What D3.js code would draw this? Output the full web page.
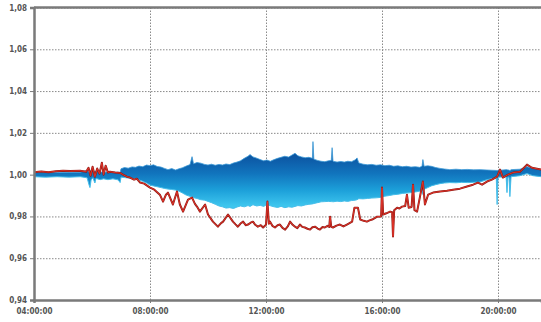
<!DOCTYPE html>
<html>
<head>
<meta charset="utf-8">
<script src="https://cdn.jsdelivr.net/npm/d3@7/dist/d3.min.js"></script>
<style>
html,body{margin:0;padding:0;background:#fff;}
svg{display:block;}
text{font-family:"DejaVu Sans Condensed","Liberation Sans Narrow","DejaVu Sans",sans-serif;font-weight:bold;}
</style>
</head>
<body>
<svg id="chart" width="541" height="322"></svg>
<script>
// ---- data (time in decimal hours) ----
const xTickValues = [4, 8, 12, 16, 20];
const xTickLabels = ["04:00:00", "08:00:00", "12:00:00", "16:00:00", "20:00:00"];
const yTickValues = [0.94, 0.96, 0.98, 1.00, 1.02, 1.04, 1.06, 1.08];
const yTickLabels = ["0,94", "0,96", "0,98", "1,00", "1,02", "1,04", "1,06", "1,08"];

const blueTimes = [4.00,4.40,4.80,5.20,5.60,5.83,5.90,5.93,5.97,6.03,6.10,6.14,6.28,6.40,6.55,6.72,6.90,6.97,
  7.00,7.12,7.25,7.38,7.50,7.62,7.75,7.88,8.00,8.12,8.25,8.38,8.50,8.62,8.75,8.88,9.00,9.12,9.25,9.38,9.45,9.50,9.62,9.75,9.88,
  10.00,10.12,10.25,10.38,10.50,10.62,10.75,10.88,11.00,11.12,11.25,11.38,11.45,11.55,11.68,11.80,11.92,
  12.03,12.15,12.28,12.40,12.52,12.65,12.78,12.90,13.00,13.10,13.22,13.35,13.48,13.60,13.62,13.65,13.78,13.90,
  14.03,14.15,14.25,14.28,14.31,14.45,14.58,14.70,14.82,14.95,15.08,15.14,15.20,15.35,15.50,15.65,15.80,15.95,
  16.10,16.25,16.40,16.55,16.70,16.85,17.00,17.15,17.30,17.38,17.41,17.45,17.58,17.70,17.85,
  18.00,18.15,18.34,18.55,18.75,18.95,19.15,19.38,19.62,19.94,19.97,20.00,20.28,20.31,20.34,20.38,20.41,20.45,20.76,21.00,21.20,21.50];
const blueUpper = [1.0010,1.0012,1.0010,1.0012,1.0012,1.0020,1.0010,1.0010,1.0024,1.0024,1.0014,1.0019,1.0014,1.0010,1.0014,1.0010,1.0012,1.0010,
  1.0028,1.0034,1.0031,1.0037,1.0035,1.0041,1.0038,1.0046,1.0043,1.0047,1.0039,1.0036,1.0030,1.0024,1.0029,1.0022,1.0028,1.0033,1.0041,1.0048,1.0086,1.0052,1.0058,1.0055,1.0049,
  1.0046,1.0050,1.0045,1.0049,1.0046,1.0051,1.0048,1.0056,1.0060,1.0066,1.0078,1.0088,1.0096,1.0085,1.0079,1.0072,1.0066,
  1.0070,1.0064,1.0072,1.0078,1.0083,1.0088,1.0084,1.0094,1.0102,1.0090,1.0085,1.0081,1.0083,1.0078,1.0158,1.0074,1.0068,1.0064,
  1.0062,1.0066,1.0068,1.0129,1.0064,1.0060,1.0063,1.0060,1.0064,1.0062,1.0071,1.0080,1.0056,1.0050,1.0047,1.0049,1.0045,1.0047,
  1.0043,1.0045,1.0040,1.0042,1.0038,1.0040,1.0036,1.0038,1.0035,1.0040,1.0072,1.0040,1.0042,1.0040,1.0034,
  1.0030,1.0027,1.0024,1.0026,1.0024,1.0025,1.0023,1.0024,1.0022,1.0020,1.0020,1.0020,1.0024,1.0024,1.0022,1.0022,1.0019,1.0024,1.0026,1.0038,1.0030,1.0024];
const blueLower = [0.9990,0.9988,0.9990,0.9988,0.9990,0.9985,0.9950,0.9938,0.9975,0.9985,0.9960,0.9982,0.9976,0.9980,0.9976,0.9980,0.9975,0.9962,
  0.9988,0.9986,0.9984,0.9982,0.9979,0.9975,0.9968,0.9960,0.9950,0.9946,0.9942,0.9938,0.9934,0.9931,0.9929,0.9926,0.9921,0.9912,0.9902,0.9896,0.9893,0.9890,0.9886,0.9880,0.9878,
  0.9872,0.9866,0.9858,0.9850,0.9846,0.9840,0.9842,0.9838,0.9845,0.9850,0.9846,0.9852,0.9848,0.9856,0.9850,0.9853,0.9848,
  0.9857,0.9851,0.9846,0.9843,0.9848,0.9842,0.9846,0.9844,0.9848,0.9852,0.9850,0.9855,0.9858,0.9860,0.9860,0.9862,0.9866,0.9870,
  0.9871,0.9872,0.9871,0.9871,0.9870,0.9873,0.9871,0.9874,0.9872,0.9876,0.9878,0.9880,0.9885,0.9884,0.9886,0.9888,0.9889,0.9891,
  0.9897,0.9900,0.9904,0.9906,0.9910,0.9912,0.9914,0.9917,0.9921,0.9925,0.9905,0.9930,0.9938,0.9946,0.9952,
  0.9957,0.9960,0.9962,0.9961,0.9963,0.9962,0.9963,0.9965,0.9976,0.9985,0.9857,0.9988,0.9990,0.9914,0.9988,0.9988,0.9895,0.9990,0.9995,1.0005,0.9995,0.9990];

const redTimes = [4.00,4.25,4.50,4.75,5.00,5.25,5.59,5.80,5.88,5.95,6.02,6.10,6.18,6.26,6.34,6.40,6.47,6.55,6.62,6.80,6.97,7.07,7.20,7.31,7.45,7.55,7.66,7.80,8.00,8.15,8.34,8.45,8.55,8.62,8.72,8.79,8.93,9.03,9.14,9.31,9.45,9.55,9.62,9.72,9.90,10.00,10.17,10.34,10.45,10.52,10.69,10.86,10.95,11.03,11.12,11.21,11.30,11.38,11.47,11.55,11.63,11.72,11.82,11.90,12.00,12.05,12.10,12.14,12.22,12.31,12.40,12.48,12.57,12.66,12.75,12.83,12.92,13.00,13.08,13.17,13.25,13.34,13.43,13.52,13.60,13.69,13.78,13.86,13.95,14.03,14.12,14.18,14.21,14.25,14.31,14.43,14.55,14.67,14.79,14.88,14.97,15.05,15.17,15.25,15.37,15.48,15.57,15.66,15.75,15.83,15.97,16.00,16.04,16.15,16.28,16.35,16.38,16.42,16.52,16.60,16.69,16.80,16.86,16.92,17.02,17.07,17.12,17.21,17.31,17.41,17.48,17.59,17.76,18.00,18.24,18.45,18.69,18.93,19.14,19.31,19.45,19.62,19.79,19.97,20.07,20.17,20.34,20.52,20.76,21.00,21.17,21.50];
const redValues = [1.0012,1.0015,1.0012,1.0016,1.0019,1.0017,1.0019,1.0014,1.0033,0.9995,1.0038,0.9990,1.0029,1.0005,1.0057,1.0000,1.0043,1.0010,1.0014,1.0010,1.0008,1.0000,0.9990,0.9986,0.9976,0.9980,0.9962,0.9957,0.9938,0.9928,0.9904,0.9871,0.9904,0.9914,0.9880,0.9857,0.9919,0.9857,0.9823,0.9880,0.9890,0.9860,0.9847,0.9823,0.9857,0.9809,0.9775,0.9751,0.9768,0.9775,0.9809,0.9775,0.9762,0.9751,0.9766,0.9775,0.9758,0.9761,0.9770,0.9775,0.9760,0.9751,0.9758,0.9747,0.9760,0.9871,0.9765,0.9775,0.9755,0.9747,0.9758,0.9761,0.9745,0.9737,0.9752,0.9775,0.9760,0.9751,0.9744,0.9761,0.9750,0.9747,0.9741,0.9737,0.9748,0.9751,0.9742,0.9737,0.9749,0.9747,0.9755,0.9750,0.9799,0.9750,0.9747,0.9756,0.9761,0.9752,0.9761,0.9768,0.9775,0.9842,0.9842,0.9785,0.9779,0.9775,0.9781,0.9785,0.9792,0.9799,0.9800,0.9938,0.9809,0.9815,0.9823,0.9820,0.9704,0.9830,0.9842,0.9838,0.9847,0.9850,0.9904,0.9842,0.9845,0.9952,0.9830,0.9823,0.9895,0.9967,0.9857,0.9904,0.9914,0.9919,0.9923,0.9928,0.9933,0.9943,0.9952,0.9962,0.9952,0.9967,0.9976,0.9990,1.0024,0.9986,1.0000,1.0010,1.0014,1.0048,1.0033,1.0024];

// ---- layout ----
const svg = d3.select("#chart");
const pLeft = 34, pRight = 541.5, pTop = 7.5, pBottom = 300;
const x = d3.scaleLinear().domain([4, 21.5]).range([pLeft, pRight]);
const y = d3.scaleLinear().domain([0.94, 1.08]).range([pBottom, pTop]);

const defs = svg.append("defs");
defs.append("clipPath").attr("id", "plotclip").append("rect")
  .attr("x", pLeft).attr("y", pTop).attr("width", pRight - pLeft).attr("height", pBottom - pTop);
const grad = defs.append("linearGradient").attr("id", "bandgrad")
  .attr("gradientUnits", "userSpaceOnUse")
  .attr("x1", 0).attr("x2", 0).attr("y1", y(1.009)).attr("y2", y(0.985));
grad.append("stop").attr("offset", "0%").attr("stop-color", "#0c55a2");
grad.append("stop").attr("offset", "35%").attr("stop-color", "#1174bd");
grad.append("stop").attr("offset", "68%").attr("stop-color", "#1c9fd9");
grad.append("stop").attr("offset", "100%").attr("stop-color", "#3ec6ee");

// gridlines
const gridY = svg.append("g").attr("transform", `translate(${pLeft},0)`)
  .call(d3.axisLeft(y).tickValues(yTickValues).tickSize(-(pRight - pLeft)).tickFormat(""));
gridY.select(".domain").remove();
gridY.selectAll("line").attr("stroke", "#8a8a8a").attr("stroke-width", 1).attr("stroke-dasharray", "1.5,1.5");

const gridX = svg.append("g").attr("transform", `translate(0,${pBottom})`)
  .call(d3.axisBottom(x).tickValues(xTickValues).tickSize(-(pBottom - pTop)).tickFormat(""));
gridX.select(".domain").remove();
gridX.selectAll("line").attr("stroke", "#8a8a8a").attr("stroke-width", 1).attr("stroke-dasharray", "1.5,1.5");

// data
const plot = svg.append("g").attr("clip-path", "url(#plotclip)");
const blueData = blueTimes.map((t, i) => ({t, u: blueUpper[i], l: blueLower[i]}));
const redData = redTimes.map((t, i) => ({t, v: redValues[i]}));

plot.append("path").datum(blueData)
  .attr("d", d3.area().x(d => x(d.t)).y0(d => y(d.l)).y1(d => y(d.u)))
  .attr("fill", "url(#bandgrad)");
plot.append("path").datum(blueData)
  .attr("d", d3.line().x(d => x(d.t)).y(d => y(d.l)))
  .attr("fill", "none").attr("stroke", "#45bde9").attr("stroke-width", 1);
plot.append("path").datum(blueData)
  .attr("d", d3.line().x(d => x(d.t)).y(d => y(d.u)))
  .attr("fill", "none").attr("stroke", "#3a98d6").attr("stroke-width", 0.8);

plot.append("path").datum(redData)
  .attr("d", d3.line().x(d => x(d.t)).y(d => y(d.v)))
  .attr("fill", "none").attr("stroke", "#8e1b16").attr("stroke-width", 2).attr("stroke-linejoin", "round");
plot.append("path").datum(redData)
  .attr("d", d3.line().x(d => x(d.t)).y(d => y(d.v)))
  .attr("fill", "none").attr("stroke", "#e8352a").attr("stroke-width", 0.9).attr("stroke-linejoin", "round");

// axes
const axisColor = "#7a7a7a";
const yAxis = svg.append("g").attr("transform", `translate(${pLeft},0)`)
  .call(d3.axisLeft(y).tickValues(yTickValues).tickSize(4).tickPadding(3)
    .tickFormat((d, i) => yTickLabels[i]));
yAxis.select(".domain").attr("stroke", axisColor).attr("stroke-width", 2.5);
yAxis.selectAll("line").attr("stroke", axisColor).attr("stroke-width", 1);
yAxis.selectAll("text").attr("fill", "#555").style("font-size", "8px");

const xAxis = svg.append("g").attr("transform", `translate(0,${pBottom})`)
  .call(d3.axisBottom(x).tickValues(xTickValues).tickSize(3).tickPadding(5)
    .tickFormat((d, i) => xTickLabels[i]));
xAxis.select(".domain").attr("stroke", axisColor).attr("stroke-width", 2.5);
xAxis.selectAll("line").attr("stroke", axisColor).attr("stroke-width", 1);
xAxis.selectAll("text").attr("fill", "#555").style("font-size", "8px");

// top border
svg.append("line").attr("x1", pLeft).attr("x2", pRight).attr("y1", pTop).attr("y2", pTop)
  .attr("stroke", axisColor).attr("stroke-width", 2.5);
</script>
</body>
</html>
